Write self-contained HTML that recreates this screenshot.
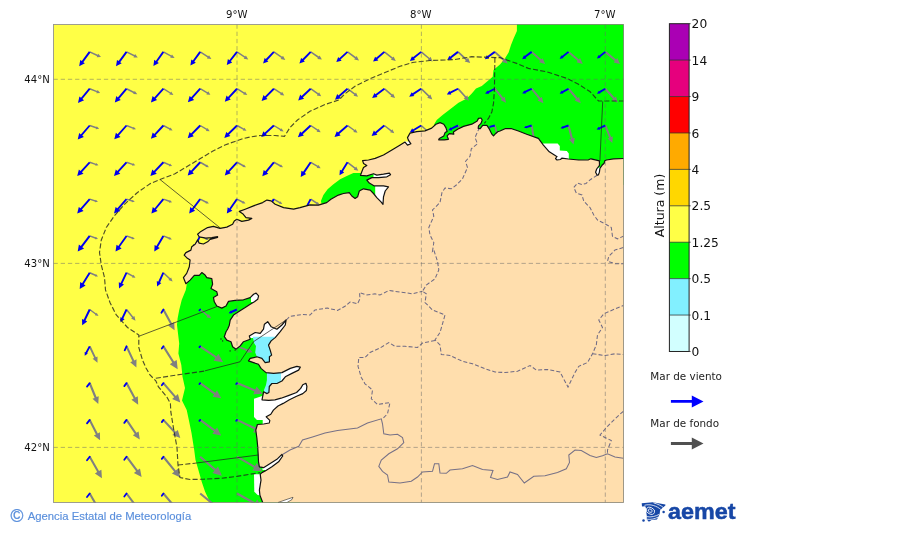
<!DOCTYPE html><html><head><meta charset="utf-8"><title>Mar de viento y mar de fondo</title>
<style>html,body{margin:0;padding:0;background:#fff}svg{display:block}text{font-family:"DejaVu Sans","Liberation Sans",sans-serif;fill:#111}.lib{font-family:"Liberation Sans","DejaVu Sans",sans-serif}</style></head><body>
<svg width="900" height="533" viewBox="0 0 900 533">
<rect width="900" height="533" fill="#fff"/>
<defs><clipPath id="c"><rect x="53.5" y="24.5" width="570.0" height="478.0"/></clipPath></defs>
<g clip-path="url(#c)">
<rect x="53.5" y="24.5" width="570.0" height="478.0" fill="#ffff46"/>
<polygon points="516.9,24.0 516.9,30.9 513.6,38.4 511.0,45.0 508.6,52.6 504.4,59.2 500.2,64.3 493.5,70.1 492.7,76.8 486.8,81.8 481.8,86.0 476.0,88.5 471.8,93.5 466.8,98.5 458.5,102.7 450.1,109.2 442.6,115.0 436.7,120.0 434.2,124.2 434.0,136.0 450.0,145.0 624.0,185.0 624.0,24.0" fill="#00ff00"/>
<polygon points="362.0,172.0 360.5,173.1 353.4,173.1 346.8,175.9 340.1,179.3 333.4,184.3 327.6,189.3 323.4,195.1 320.9,201.0 321.7,204.3 325.0,212.0 395.0,212.0 395.0,172.0" fill="#00ff00"/>
<polygon points="195.0,272.0 190.0,279.0 186.8,283.9 185.8,290.1 181.7,300.1 179.2,310.1 177.6,318.5 177.0,325.0 179.2,343.4 178.4,353.4 181.3,365.0 182.5,376.8 185.0,388.0 182.0,400.5 186.7,410.0 189.2,421.7 191.5,433.0 194.2,450.1 195.5,460.0 198.4,470.1 201.7,481.7 205.1,491.8 210.1,502.5 300.0,502.5 300.0,272.0" fill="#00ff00"/>
<polygon points="542.6,143.4 557.6,143.4 559.8,146.0 559.8,150.4 566.8,151.0 568.8,153.5 568.8,162.0 552.0,162.0 541.0,146.0" fill="#fff"/>
<polygon points="594.0,167.4 602.0,167.4 602.0,176.0 594.0,176.0" fill="#fff"/>
<polygon points="373.5,172.0 392.0,172.0 392.0,178.5 373.5,178.5" fill="#fff"/>
<polygon points="375.2,184.0 390.0,184.0 390.0,206.0 375.2,206.0" fill="#fff"/>
<polygon points="404.0,141.5 412.0,141.5 412.0,146.5 404.0,146.5" fill="#fff"/>
<polygon points="251.0,291.0 260.0,291.0 260.0,302.0 251.0,302.0" fill="#fff"/>
<polygon points="249.0,318.0 290.0,318.0 290.0,338.0 249.0,338.0" fill="#fff"/>
<polygon points="279.5,365.0 302.0,365.0 302.0,385.0 279.5,385.0" fill="#fff"/>
<polygon points="254.0,398.7 310.0,380.0 310.0,424.0 262.7,424.0 262.7,420.0 257.0,420.0 254.0,417.0" fill="#fff"/>
<polygon points="254.0,474.2 263.0,474.2 263.0,496.0 257.7,495.1 254.3,491.8" fill="#fff"/>
<polygon points="262.5,452.0 284.0,452.0 284.0,470.0 262.5,470.0" fill="#fff"/>
<polygon points="252.7,336.7 290.0,336.7 290.0,365.0 262.0,365.0 256.9,356.8 255.2,352.6 256.0,345.9 254.3,343.4" fill="#82f0ff"/>
<polygon points="266.9,372.0 281.0,372.0 281.0,386.0 270.5,386.0 270.5,392.0 264.5,395.0 264.0,390.0 266.0,385.0 266.9,380.0" fill="#82f0ff"/>
<polygon points="89.4,52.6 97.1,56.2 96.7,57.2 101.0,57.1 98.2,53.8 97.8,54.8 90.0,51.2" fill="#808080"/>
<polygon points="126.2,52.6 134.0,56.4 133.5,57.4 137.8,57.4 135.1,54.0 134.6,55.0 126.9,51.2" fill="#808080"/>
<polygon points="163.0,52.6 170.8,56.7 170.2,57.7 174.6,57.9 172.0,54.4 171.5,55.4 163.7,51.2" fill="#808080"/>
<polygon points="199.8,52.5 207.5,57.5 206.9,58.6 211.4,59.1 209.0,55.2 208.4,56.3 200.6,51.3" fill="#808080"/>
<polygon points="236.6,52.5 244.4,57.7 243.7,58.8 248.3,59.4 245.9,55.4 245.2,56.5 237.4,51.3" fill="#808080"/>
<polygon points="273.4,52.5 281.4,58.0 280.6,59.1 285.3,59.9 283.0,55.7 282.2,56.8 274.3,51.3" fill="#808080"/>
<polygon points="310.3,52.5 318.0,57.9 317.3,58.9 321.9,59.6 319.6,55.6 318.9,56.6 311.1,51.3" fill="#808080"/>
<polygon points="347.1,52.5 355.0,58.4 354.2,59.5 359.0,60.4 356.7,56.0 355.9,57.1 348.0,51.3" fill="#808080"/>
<polygon points="383.9,52.5 391.8,58.7 390.9,59.8 395.8,60.9 393.6,56.4 392.8,57.5 384.8,51.3" fill="#808080"/>
<polygon points="420.7,52.5 428.6,59.1 427.7,60.2 432.7,61.5 430.5,56.8 429.6,57.9 421.7,51.3" fill="#808080"/>
<polygon points="457.4,52.5 465.8,60.3 464.7,61.5 470.2,63.1 468.1,57.8 467.0,59.0 458.6,51.3" fill="#808080"/>
<polygon points="494.2,52.6 503.1,60.7 502.0,61.9 507.7,63.6 505.5,58.0 504.3,59.3 495.4,51.2" fill="#808080"/>
<polygon points="531.0,52.6 540.3,60.9 539.1,62.2 545.1,63.9 542.7,58.2 541.5,59.5 532.3,51.2" fill="#808080"/>
<polygon points="567.9,52.6 577.7,60.9 576.5,62.3 582.7,63.9 580.1,58.0 578.9,59.4 569.1,51.2" fill="#808080"/>
<polygon points="604.7,52.7 614.8,61.0 613.7,62.4 620.0,63.9 617.3,58.0 616.1,59.4 606.0,51.1" fill="#808080"/>
<polygon points="89.4,89.4 96.7,92.3 96.3,93.2 100.2,92.9 97.6,90.1 97.2,90.9 90.0,88.0" fill="#808080"/>
<polygon points="126.2,89.4 133.6,93.2 133.1,94.1 137.3,94.2 134.8,90.9 134.3,91.8 126.9,88.0" fill="#808080"/>
<polygon points="163.0,89.3 169.9,93.6 169.3,94.5 173.4,94.9 171.2,91.5 170.7,92.4 163.8,88.1" fill="#808080"/>
<polygon points="199.8,89.3 206.9,93.5 206.4,94.4 210.4,94.7 208.2,91.3 207.6,92.2 200.6,88.1" fill="#808080"/>
<polygon points="236.6,89.3 243.7,93.7 243.2,94.5 247.3,94.9 245.0,91.5 244.5,92.4 237.4,88.1" fill="#808080"/>
<polygon points="273.4,89.3 280.7,94.0 280.1,94.9 284.3,95.4 282.1,91.8 281.5,92.7 274.3,88.1" fill="#808080"/>
<polygon points="310.2,89.3 317.5,94.5 316.8,95.4 321.2,96.2 319.1,92.3 318.4,93.3 311.1,88.1" fill="#808080"/>
<polygon points="347.1,89.3 354.3,94.8 353.6,95.8 358.0,96.7 356.0,92.6 355.2,93.6 348.0,88.1" fill="#808080"/>
<polygon points="383.8,89.3 391.3,95.7 390.4,96.7 395.1,97.9 393.1,93.5 392.3,94.5 384.8,88.1" fill="#808080"/>
<polygon points="420.6,89.3 428.3,96.7 427.2,97.7 432.3,99.4 430.4,94.4 429.4,95.5 421.7,88.1" fill="#808080"/>
<polygon points="457.4,89.3 464.9,97.6 463.7,98.6 468.9,100.7 467.3,95.3 466.2,96.4 458.6,88.1" fill="#808080"/>
<polygon points="494.1,89.3 501.8,99.0 500.5,100.0 506.0,102.7 504.7,96.7 503.3,97.8 495.6,88.1" fill="#808080"/>
<polygon points="530.9,89.3 539.0,99.3 537.6,100.5 543.4,103.2 541.9,96.9 540.5,98.1 532.4,88.1" fill="#808080"/>
<polygon points="567.7,89.3 576.1,99.3 574.7,100.5 580.7,103.2 579.1,96.9 577.7,98.1 569.3,88.1" fill="#808080"/>
<polygon points="604.6,89.4 613.2,99.0 611.8,100.2 617.8,102.7 616.0,96.5 614.7,97.7 606.1,88.0" fill="#808080"/>
<polygon points="89.5,126.2 96.0,128.5 95.8,129.2 99.2,128.8 96.7,126.3 96.5,127.0 89.9,124.8" fill="#808080"/>
<polygon points="126.3,126.2 132.8,128.8 132.5,129.5 136.0,129.2 133.6,126.7 133.4,127.4 126.8,124.8" fill="#808080"/>
<polygon points="163.0,126.2 169.4,129.6 169.0,130.3 172.6,130.5 170.5,127.6 170.1,128.3 163.7,124.8" fill="#808080"/>
<polygon points="199.8,126.1 206.4,130.1 205.9,130.9 209.7,131.2 207.6,128.0 207.1,128.8 200.6,124.9" fill="#808080"/>
<polygon points="236.7,126.2 243.2,129.8 242.8,130.5 246.5,130.8 244.4,127.7 243.9,128.5 237.4,124.8" fill="#808080"/>
<polygon points="273.5,126.1 280.2,130.3 279.7,131.1 283.6,131.5 281.5,128.2 281.0,129.0 274.2,124.9" fill="#808080"/>
<polygon points="310.3,126.1 317.2,130.8 316.6,131.7 320.7,132.2 318.6,128.7 318.0,129.5 311.1,124.9" fill="#808080"/>
<polygon points="347.1,126.1 354.0,131.1 353.3,132.0 357.5,132.8 355.5,129.0 354.9,129.9 348.0,124.9" fill="#808080"/>
<polygon points="383.9,126.1 390.8,131.4 390.1,132.3 394.3,133.2 392.4,129.3 391.7,130.3 384.8,124.9" fill="#808080"/>
<polygon points="420.7,126.1 427.6,132.3 426.7,133.2 431.2,134.5 429.4,130.2 428.6,131.2 421.7,124.9" fill="#808080"/>
<polygon points="457.4,126.0 463.6,134.3 462.4,135.1 467.0,137.5 466.0,132.4 464.8,133.3 458.6,125.0" fill="#808080"/>
<polygon points="494.0,125.7 496.7,136.8 495.2,137.1 498.8,141.5 500.0,135.9 498.4,136.3 495.7,125.3" fill="#808080"/>
<polygon points="530.7,125.7 532.8,138.1 531.0,138.4 534.7,143.5 536.4,137.5 534.7,137.8 532.6,125.3" fill="#808080"/>
<polygon points="567.5,125.8 570.9,138.9 569.1,139.4 573.5,144.5 574.8,137.9 572.9,138.3 569.5,125.2" fill="#808080"/>
<polygon points="604.4,125.9 609.2,137.9 607.5,138.6 612.3,142.9 612.8,136.5 611.1,137.1 606.2,125.1" fill="#808080"/>
<polygon points="89.5,163.0 95.5,165.1 95.3,165.7 98.5,165.3 96.2,163.1 96.0,163.7 89.9,161.6" fill="#808080"/>
<polygon points="126.3,163.0 132.3,165.1 132.1,165.7 135.3,165.3 133.0,163.1 132.8,163.7 126.8,161.6" fill="#808080"/>
<polygon points="163.1,163.0 169.1,165.6 168.8,166.2 172.1,166.0 170.0,163.6 169.7,164.2 163.7,161.6" fill="#808080"/>
<polygon points="199.8,163.0 205.9,166.4 205.5,167.1 208.9,167.3 207.0,164.4 206.6,165.1 200.6,161.6" fill="#808080"/>
<polygon points="236.7,163.0 242.9,166.4 242.5,167.1 246.0,167.3 244.0,164.4 243.6,165.1 237.4,161.6" fill="#808080"/>
<polygon points="273.5,163.0 279.9,166.4 279.5,167.1 283.1,167.3 281.0,164.4 280.6,165.1 274.2,161.6" fill="#808080"/>
<polygon points="310.3,162.9 317.2,167.1 316.7,167.9 320.7,168.3 318.5,164.9 318.0,165.8 311.1,161.7" fill="#808080"/>
<polygon points="347.0,162.9 354.5,168.8 353.7,169.8 358.3,170.8 356.2,166.6 355.4,167.6 348.0,161.7" fill="#808080"/>
<polygon points="89.5,199.8 95.2,201.7 95.0,202.3 98.0,201.8 95.8,199.7 95.6,200.3 89.9,198.4" fill="#808080"/>
<polygon points="126.3,199.8 132.0,201.7 131.8,202.3 134.8,201.8 132.6,199.7 132.5,200.3 126.8,198.4" fill="#808080"/>
<polygon points="163.1,199.8 169.1,202.0 168.9,202.7 172.1,202.3 169.9,200.0 169.7,200.6 163.6,198.4" fill="#808080"/>
<polygon points="199.8,199.8 205.9,202.9 205.6,203.5 208.9,203.6 206.9,200.9 206.6,201.5 200.5,198.4" fill="#808080"/>
<polygon points="236.7,199.8 242.5,202.9 242.2,203.5 245.5,203.6 243.6,200.9 243.2,201.5 237.4,198.4" fill="#808080"/>
<polygon points="273.5,199.7 279.3,203.2 279.0,203.8 282.3,204.1 280.5,201.3 280.1,201.9 274.2,198.5" fill="#808080"/>
<polygon points="310.3,199.7 316.5,203.9 316.0,204.6 319.7,205.1 317.8,201.9 317.3,202.6 311.1,198.5" fill="#808080"/>
<polygon points="89.4,236.6 95.1,238.7 94.9,239.2 98.0,238.9 95.9,236.7 95.6,237.3 90.0,235.2" fill="#808080"/>
<polygon points="126.3,236.6 132.0,238.7 131.8,239.2 134.8,238.9 132.7,236.7 132.5,237.3 126.8,235.2" fill="#808080"/>
<polygon points="163.1,236.6 168.9,239.0 168.7,239.6 171.9,239.4 169.8,237.0 169.5,237.6 163.6,235.2" fill="#808080"/>
<polygon points="199.9,236.6 205.7,239.3 205.5,239.9 208.7,239.9 206.7,237.4 206.4,238.0 200.5,235.2" fill="#808080"/>
<polygon points="89.4,273.4 95.1,276.0 94.8,276.5 98.0,276.4 96.0,274.0 95.7,274.6 90.0,272.0" fill="#808080"/>
<polygon points="126.2,273.4 132.4,276.8 132.0,277.5 135.5,277.7 133.5,274.8 133.1,275.5 126.9,272.0" fill="#808080"/>
<polygon points="162.8,273.2 169.2,279.3 168.4,280.1 172.6,281.4 171.1,277.4 170.3,278.2 163.9,272.2" fill="#808080"/>
<polygon points="89.3,310.1 95.3,314.6 94.8,315.3 98.5,316.0 96.7,312.7 96.2,313.4 90.1,308.9" fill="#808080"/>
<polygon points="125.9,310.0 132.1,317.7 131.1,318.6 135.5,320.7 134.4,315.9 133.3,316.8 127.1,309.0" fill="#808080"/>
<polygon points="162.4,310.0 170.2,324.3 168.0,325.5 174.6,330.2 174.2,322.1 172.0,323.3 164.3,309.0" fill="#808080"/>
<polygon points="199.7,310.1 207.2,316.2 206.3,317.2 211.0,318.3 209.0,314.0 208.1,315.0 200.7,308.9" fill="#808080"/>
<polygon points="88.8,346.7 94.2,358.0 92.6,358.8 97.5,362.7 97.5,356.4 95.9,357.2 90.6,345.9" fill="#808080"/>
<polygon points="125.6,346.7 132.4,361.3 130.2,362.3 136.4,367.4 136.5,359.3 134.3,360.4 127.5,345.9" fill="#808080"/>
<polygon points="162.5,346.9 172.3,362.6 169.8,364.2 177.7,369.2 176.7,359.9 174.1,361.5 164.3,345.7" fill="#808080"/>
<polygon points="199.6,347.2 215.4,358.1 213.6,360.7 223.1,362.2 218.4,353.8 216.6,356.4 200.8,345.4" fill="#808080"/>
<polygon points="236.7,347.1 247.5,351.3 246.9,352.8 252.6,352.3 248.7,348.1 248.1,349.6 237.3,345.5" fill="#808080"/>
<polygon points="88.7,383.5 94.6,397.9 92.5,398.7 98.3,403.9 98.7,396.2 96.6,397.1 90.7,382.7" fill="#808080"/>
<polygon points="125.6,383.6 133.7,398.5 131.4,399.7 138.2,404.7 137.8,396.2 135.5,397.5 127.5,382.6" fill="#808080"/>
<polygon points="162.6,383.8 174.2,397.2 172.1,399.1 180.3,402.6 177.9,394.0 175.8,395.9 164.2,382.4" fill="#808080"/>
<polygon points="199.6,384.0 214.1,394.4 212.5,396.7 221.2,398.2 217.0,390.3 215.3,392.7 200.8,382.2" fill="#808080"/>
<polygon points="236.6,384.1 254.5,391.4 253.3,394.3 262.9,393.7 256.5,386.5 255.3,389.4 237.4,382.1" fill="#808080"/>
<polygon points="88.8,420.4 95.9,434.4 93.8,435.5 100.1,440.2 99.9,432.3 97.8,433.4 90.6,419.4" fill="#808080"/>
<polygon points="125.7,420.5 134.8,433.9 132.8,435.3 139.8,439.4 138.6,431.4 136.5,432.8 127.4,419.3" fill="#808080"/>
<polygon points="162.6,420.6 174.3,433.2 172.3,435.0 180.3,438.1 177.8,429.9 175.8,431.7 164.1,419.2" fill="#808080"/>
<polygon points="199.6,420.7 214.1,431.5 212.4,433.8 221.2,435.5 217.1,427.5 215.3,429.8 200.8,419.1" fill="#808080"/>
<polygon points="236.6,420.8 254.5,429.5 253.1,432.4 263.0,432.4 256.8,424.6 255.4,427.6 237.5,419.0" fill="#808080"/>
<polygon points="88.8,457.2 97.2,472.1 94.9,473.4 101.9,478.3 101.4,469.8 99.0,471.1 90.6,456.2" fill="#808080"/>
<polygon points="125.7,457.3 136.1,471.3 133.9,473.0 141.6,477.0 140.0,468.4 137.8,470.1 127.4,456.1" fill="#808080"/>
<polygon points="162.5,457.4 174.2,471.7 171.9,473.6 180.3,477.5 178.1,468.5 175.8,470.4 164.2,456.0" fill="#808080"/>
<polygon points="199.5,457.5 214.5,470.7 212.3,473.1 221.9,475.8 218.0,466.6 215.9,469.1 200.9,455.9" fill="#808080"/>
<polygon points="236.5,457.6 254.0,467.7 252.3,470.6 262.3,471.3 256.7,463.0 255.0,465.9 237.5,455.8" fill="#808080"/>
<polygon points="88.8,494.0 97.4,509.1 95.0,510.4 102.2,515.3 101.6,506.7 99.2,508.0 90.6,493.0" fill="#808080"/>
<polygon points="125.7,494.1 136.5,508.5 134.2,510.2 142.1,514.3 140.4,505.5 138.1,507.2 127.4,492.9" fill="#808080"/>
<polygon points="162.6,494.2 174.8,508.5 172.4,510.5 181.0,514.3 178.7,505.2 176.4,507.2 164.2,492.8" fill="#808080"/>
<polygon points="199.5,494.3 215.3,507.2 213.2,509.8 223.1,512.2 218.8,503.0 216.6,505.6 200.9,492.7" fill="#808080"/>
<polygon points="236.5,494.4 254.4,504.5 252.8,507.4 263.0,508.1 257.1,499.6 255.5,502.6 237.5,492.6" fill="#808080"/>
<polygon points="88.9,51.3 81.8,61.0 80.2,59.9 79.2,66.2 84.9,63.3 83.3,62.2 90.5,52.5" fill="#0000ee"/>
<polygon points="125.8,51.3 118.6,61.0 117.0,59.9 116.0,66.2 121.7,63.3 120.2,62.2 127.3,52.5" fill="#0000ee"/>
<polygon points="162.6,51.3 155.8,60.9 154.2,59.8 153.4,65.9 158.9,63.1 157.3,62.0 164.1,52.5" fill="#0000ee"/>
<polygon points="199.4,51.3 192.8,60.5 191.3,59.5 190.4,65.4 195.8,62.7 194.3,61.6 201.0,52.5" fill="#0000ee"/>
<polygon points="236.3,51.3 229.3,60.2 227.9,59.0 226.8,64.9 232.2,62.4 230.8,61.3 237.8,52.5" fill="#0000ee"/>
<polygon points="273.2,51.3 265.8,59.1 264.6,57.9 263.1,63.4 268.4,61.5 267.2,60.4 274.5,52.5" fill="#0000ee"/>
<polygon points="310.0,51.2 302.4,59.1 301.1,57.9 299.4,63.4 304.9,61.6 303.7,60.4 311.4,52.6" fill="#0000ee"/>
<polygon points="346.9,51.2 339.2,58.2 338.2,57.0 336.3,62.1 341.6,60.7 340.5,59.6 348.1,52.6" fill="#0000ee"/>
<polygon points="383.7,51.2 376.1,57.8 375.1,56.7 373.1,61.6 378.3,60.4 377.3,59.2 385.0,52.6" fill="#0000ee"/>
<polygon points="420.6,51.2 412.9,57.3 412.0,56.2 409.9,60.9 415.0,59.9 414.1,58.8 421.8,52.6" fill="#0000ee"/>
<polygon points="457.4,51.1 450.1,56.7 449.4,55.7 447.3,60.1 452.1,59.2 451.3,58.2 458.6,52.7" fill="#0000ee"/>
<polygon points="494.3,51.1 487.5,56.1 486.8,55.2 484.8,59.2 489.2,58.5 488.6,57.6 495.4,52.7" fill="#0000ee"/>
<polygon points="531.1,51.1 524.6,56.1 524.0,55.3 522.2,59.2 526.4,58.4 525.8,57.6 532.2,52.7" fill="#0000ee"/>
<polygon points="567.9,51.2 561.9,55.9 561.3,55.2 559.6,58.9 563.6,58.1 563.0,57.4 569.1,52.6" fill="#0000ee"/>
<polygon points="604.7,51.2 599.0,55.7 598.5,55.1 596.9,58.6 600.7,57.8 600.2,57.2 605.9,52.6" fill="#0000ee"/>
<polygon points="89.0,88.1 81.0,97.8 79.4,96.5 78.0,102.9 84.1,100.3 82.4,99.0 90.4,89.3" fill="#0000ee"/>
<polygon points="125.8,88.1 117.8,97.4 116.3,96.1 114.8,102.4 120.8,100.0 119.3,98.7 127.3,89.3" fill="#0000ee"/>
<polygon points="162.7,88.1 154.2,97.4 152.6,96.0 150.9,102.4 157.1,100.1 155.6,98.7 164.1,89.3" fill="#0000ee"/>
<polygon points="199.5,88.1 191.2,97.2 189.6,95.9 187.9,102.2 194.1,99.9 192.6,98.5 200.9,89.3" fill="#0000ee"/>
<polygon points="236.3,88.0 228.0,96.9 226.5,95.5 224.8,101.7 230.8,99.6 229.4,98.2 237.7,89.4" fill="#0000ee"/>
<polygon points="273.2,88.0 264.8,96.4 263.5,95.0 261.6,100.9 267.5,99.1 266.2,97.7 274.5,89.4" fill="#0000ee"/>
<polygon points="310.0,88.0 301.5,96.0 300.2,94.6 298.2,100.4 304.1,98.8 302.8,97.4 311.3,89.4" fill="#0000ee"/>
<polygon points="346.9,88.0 338.4,95.5 337.2,94.1 335.0,99.7 340.8,98.2 339.6,96.9 348.1,89.4" fill="#0000ee"/>
<polygon points="383.8,87.9 375.4,94.2 374.5,93.0 372.1,97.9 377.5,97.0 376.6,95.7 384.9,89.5" fill="#0000ee"/>
<polygon points="420.6,87.9 412.5,93.3 411.7,92.2 409.2,96.7 414.3,96.1 413.5,94.9 421.7,89.5" fill="#0000ee"/>
<polygon points="457.6,87.9 449.9,91.8 449.4,90.8 446.8,94.5 451.3,94.5 450.8,93.5 458.4,89.5" fill="#0000ee"/>
<polygon points="494.4,87.9 487.8,91.3 487.4,90.5 485.1,93.7 489.1,93.7 488.7,92.9 495.3,89.5" fill="#0000ee"/>
<polygon points="531.2,87.9 524.8,91.1 524.4,90.4 522.2,93.5 526.0,93.5 525.6,92.8 532.1,89.5" fill="#0000ee"/>
<polygon points="568.0,87.9 562.0,91.3 561.6,90.6 559.6,93.7 563.3,93.6 562.9,92.9 569.0,89.5" fill="#0000ee"/>
<polygon points="604.8,87.9 599.1,91.3 598.8,90.7 596.9,93.7 600.4,93.5 600.1,92.9 605.8,89.5" fill="#0000ee"/>
<polygon points="89.0,124.9 80.8,134.4 79.2,133.0 77.7,139.5 83.9,137.0 82.3,135.6 90.4,126.1" fill="#0000ee"/>
<polygon points="125.8,124.9 117.5,134.2 115.9,132.8 114.3,139.2 120.5,136.9 118.9,135.5 127.2,126.1" fill="#0000ee"/>
<polygon points="162.7,124.8 154.2,133.9 152.7,132.4 150.9,138.8 157.0,136.6 155.6,135.2 164.1,126.2" fill="#0000ee"/>
<polygon points="199.5,124.8 191.0,133.5 189.6,132.1 187.7,138.2 193.8,136.2 192.4,134.8 200.9,126.2" fill="#0000ee"/>
<polygon points="236.4,124.8 227.7,133.3 226.3,131.9 224.3,138.0 230.4,136.1 229.0,134.7 237.7,126.2" fill="#0000ee"/>
<polygon points="273.2,124.8 264.6,132.7 263.4,131.3 261.2,137.1 267.2,135.5 265.9,134.1 274.5,126.2" fill="#0000ee"/>
<polygon points="310.0,124.8 301.4,132.8 300.1,131.4 297.9,137.2 303.9,135.6 302.7,134.2 311.3,126.2" fill="#0000ee"/>
<polygon points="346.9,124.8 338.0,132.6 336.8,131.2 334.5,137.0 340.6,135.5 339.3,134.0 348.1,126.2" fill="#0000ee"/>
<polygon points="383.7,124.8 375.1,131.9 373.9,130.5 371.6,136.0 377.4,134.7 376.3,133.4 384.9,126.2" fill="#0000ee"/>
<polygon points="420.7,124.7 412.9,129.4 412.2,128.3 409.7,132.4 414.5,132.1 413.8,131.0 421.7,126.3" fill="#0000ee"/>
<polygon points="457.6,124.6 451.0,127.9 450.6,127.2 448.3,130.3 452.2,130.4 451.8,129.6 458.4,126.4" fill="#0000ee"/>
<polygon points="494.6,124.6 490.3,125.8 490.2,125.7 488.5,127.3 490.8,127.8 490.8,127.6 495.1,126.4" fill="#0000ee"/>
<polygon points="531.4,124.6 526.2,126.2 526.0,125.8 524.0,127.8 526.8,128.3 526.7,128.0 531.9,126.4" fill="#0000ee"/>
<polygon points="568.2,124.6 562.7,126.5 562.6,126.1 560.5,128.3 563.5,128.7 563.4,128.3 568.8,126.4" fill="#0000ee"/>
<polygon points="604.9,124.6 599.0,127.4 598.7,126.8 596.6,129.5 600.1,129.7 599.8,129.1 605.7,126.4" fill="#0000ee"/>
<polygon points="89.0,161.7 80.5,171.0 78.9,169.6 77.2,176.0 83.5,173.7 81.9,172.3 90.4,162.9" fill="#0000ee"/>
<polygon points="125.8,161.7 117.3,171.0 115.8,169.6 114.0,176.0 120.3,173.7 118.7,172.3 127.2,162.9" fill="#0000ee"/>
<polygon points="162.7,161.6 153.8,171.0 152.3,169.5 150.4,176.0 156.8,173.8 155.2,172.3 164.1,163.0" fill="#0000ee"/>
<polygon points="199.5,161.6 191.0,170.7 189.5,169.2 187.7,175.5 193.9,173.4 192.4,172.0 200.9,163.0" fill="#0000ee"/>
<polygon points="236.3,161.7 228.0,170.7 226.5,169.3 224.8,175.5 230.9,173.3 229.4,172.0 237.7,162.9" fill="#0000ee"/>
<polygon points="273.1,161.7 265.3,171.2 263.7,169.9 262.3,176.3 268.3,173.7 266.8,172.4 274.6,162.9" fill="#0000ee"/>
<polygon points="309.9,161.8 303.1,171.8 301.4,170.7 300.7,177.0 306.3,174.0 304.7,172.9 311.5,162.8" fill="#0000ee"/>
<polygon points="346.7,161.8 341.3,170.6 339.9,169.8 339.5,175.3 344.2,172.5 342.9,171.6 348.3,162.8" fill="#0000ee"/>
<polygon points="89.0,198.5 80.5,208.3 78.8,206.9 77.2,213.6 83.6,211.0 81.9,209.6 90.4,199.7" fill="#0000ee"/>
<polygon points="125.8,198.5 117.3,208.3 115.6,206.9 114.0,213.6 120.4,211.0 118.7,209.6 127.2,199.7" fill="#0000ee"/>
<polygon points="162.6,198.5 154.5,208.4 152.8,207.0 151.4,213.6 157.6,210.9 155.9,209.6 164.1,199.7" fill="#0000ee"/>
<polygon points="199.4,198.5 192.0,208.4 190.3,207.1 189.2,213.6 195.1,210.8 193.5,209.5 200.9,199.7" fill="#0000ee"/>
<polygon points="236.2,198.6 229.3,208.4 227.7,207.3 226.8,213.6 232.4,210.7 230.8,209.5 237.8,199.6" fill="#0000ee"/>
<polygon points="273.0,198.6 266.9,208.8 265.3,207.8 264.8,214.1 270.2,210.8 268.5,209.8 274.7,199.6" fill="#0000ee"/>
<polygon points="309.8,198.7 304.4,208.9 302.8,208.0 302.7,214.1 307.7,210.6 306.1,209.7 311.5,199.5" fill="#0000ee"/>
<polygon points="88.9,235.3 80.8,246.0 78.9,244.6 77.7,251.6 84.1,248.6 82.3,247.2 90.5,236.5" fill="#0000ee"/>
<polygon points="125.8,235.4 118.3,246.0 116.5,244.8 115.5,251.6 121.6,248.4 119.8,247.1 127.3,236.4" fill="#0000ee"/>
<polygon points="162.5,235.4 156.4,246.1 154.6,245.1 154.3,251.6 159.8,248.1 158.0,247.1 164.2,236.4" fill="#0000ee"/>
<polygon points="199.3,235.5 194.6,245.0 193.1,244.3 193.2,249.9 197.7,246.6 196.3,245.8 201.0,236.3" fill="#0000ee"/>
<polygon points="88.9,272.2 82.1,283.3 80.2,282.1 79.7,288.9 85.6,285.4 83.7,284.2 90.5,273.2" fill="#0000ee"/>
<polygon points="125.7,272.3 120.6,283.0 118.8,282.2 119.0,288.4 124.0,284.6 122.3,283.8 127.4,273.1" fill="#0000ee"/>
<polygon points="162.5,272.3 158.2,281.7 156.8,281.0 157.1,286.4 161.4,283.1 160.0,282.4 164.2,273.1" fill="#0000ee"/>
<polygon points="88.8,309.1 83.7,319.8 82.0,319.0 82.2,325.2 87.2,321.4 85.5,320.6 90.6,309.9" fill="#0000ee"/>
<polygon points="125.7,309.1 121.6,317.8 120.3,317.2 120.5,322.2 124.6,319.2 123.3,318.6 127.4,309.9" fill="#0000ee"/>
<path d="M163.4 309.5 l-2.0 3.2" stroke="#0000ee" stroke-width="1.8" stroke-linecap="round" fill="none"/>
<path d="M200.2 309.5 l-0.8 0.9" stroke="#0000ee" stroke-width="1.8" stroke-linecap="round" fill="none"/>
<polygon points="236.6,308.6 230.9,311.1 230.7,310.6 228.6,313.2 231.9,313.4 231.7,312.9 237.4,310.4" fill="#0000ee"/>
<polygon points="88.9,345.9 85.5,352.3 84.7,351.9 84.7,355.8 87.9,353.6 87.1,353.2 90.5,346.7" fill="#0000ee"/>
<path d="M126.5 346.3 l-1.8 4.0" stroke="#0000ee" stroke-width="1.8" stroke-linecap="round" fill="none"/>
<path d="M163.4 346.3 l-1.6 2.2" stroke="#0000ee" stroke-width="1.8" stroke-linecap="round" fill="none"/>
<path d="M200.2 346.3 l-0.8 0.9" stroke="#0000ee" stroke-width="1.8" stroke-linecap="round" fill="none"/>
<path d="M237.0 346.3 l-0.8 0.9" stroke="#0000ee" stroke-width="1.8" stroke-linecap="round" fill="none"/>
<path d="M89.7 383.1 l-2.7 3.5" stroke="#0000ee" stroke-width="1.8" stroke-linecap="round" fill="none"/>
<path d="M126.5 383.1 l-2.2 3.0" stroke="#0000ee" stroke-width="1.8" stroke-linecap="round" fill="none"/>
<path d="M163.4 383.1 l-1.6 2.2" stroke="#0000ee" stroke-width="1.8" stroke-linecap="round" fill="none"/>
<path d="M200.2 383.1 l-0.8 0.9" stroke="#0000ee" stroke-width="1.8" stroke-linecap="round" fill="none"/>
<path d="M237.0 383.1 l-0.8 0.9" stroke="#0000ee" stroke-width="1.8" stroke-linecap="round" fill="none"/>
<path d="M89.7 419.9 l-2.7 3.5" stroke="#0000ee" stroke-width="1.8" stroke-linecap="round" fill="none"/>
<path d="M126.5 419.9 l-2.2 3.0" stroke="#0000ee" stroke-width="1.8" stroke-linecap="round" fill="none"/>
<path d="M163.4 419.9 l-1.6 2.2" stroke="#0000ee" stroke-width="1.8" stroke-linecap="round" fill="none"/>
<path d="M200.2 419.9 l-0.8 0.9" stroke="#0000ee" stroke-width="1.8" stroke-linecap="round" fill="none"/>
<path d="M237.0 419.9 l-0.8 0.9" stroke="#0000ee" stroke-width="1.8" stroke-linecap="round" fill="none"/>
<path d="M89.7 456.7 l-2.7 3.5" stroke="#0000ee" stroke-width="1.8" stroke-linecap="round" fill="none"/>
<path d="M126.5 456.7 l-2.2 3.0" stroke="#0000ee" stroke-width="1.8" stroke-linecap="round" fill="none"/>
<path d="M163.4 456.7 l-1.6 2.2" stroke="#0000ee" stroke-width="1.8" stroke-linecap="round" fill="none"/>
<path d="M89.7 493.5 l-2.7 3.5" stroke="#0000ee" stroke-width="1.8" stroke-linecap="round" fill="none"/>
<path d="M126.5 493.5 l-2.2 3.0" stroke="#0000ee" stroke-width="1.8" stroke-linecap="round" fill="none"/>
<path d="M163.4 493.5 l-1.6 2.2" stroke="#0000ee" stroke-width="1.8" stroke-linecap="round" fill="none"/>
<path d="M624.0 158.5 L613.6 158.8 L606.5 160.0 L604.7 160.8 L604.2 163.2 L602.0 165.3 L599.9 168.5 L599.4 172.2 L598.3 174.9 L597.2 175.2 L595.6 172.2 L596.7 169.0 L599.5 165.3 L599.4 160.8 L595.2 159.8 L591.0 158.8 L588.5 159.8 L578.5 160.0 L568.5 159.0 L561.8 158.1 L560.5 159.5 L557.0 160.0 L555.5 158.5 L557.0 156.5 L556.0 156.0 L549.3 151.8 L543.4 145.1 L538.4 138.4 L526.7 134.3 L518.4 131.0 L511.7 128.7 L505.0 128.7 L500.0 131.0 L497.7 131.7 L495.5 133.7 L493.5 135.9 L491.9 134.2 L489.4 129.2 L486.9 125.4 L482.7 125.4 L480.2 128.7 L478.2 128.4 L478.5 125.9 L481.0 123.4 L482.2 120.0 L481.0 118.0 L478.5 118.4 L477.2 120.9 L471.8 124.2 L463.5 126.4 L457.6 129.2 L453.4 132.1 L453.8 134.2 L449.3 133.7 L447.1 135.9 L448.4 139.3 L444.3 139.8 L438.7 139.8 L439.3 138.4 L443.8 135.9 L445.1 132.6 L447.1 131.4 L445.9 127.6 L443.8 124.2 L440.1 122.6 L435.9 124.2 L431.7 128.1 L425.0 130.9 L416.7 131.7 L410.0 133.1 L407.5 137.6 L408.4 140.1 L410.9 143.8 L407.5 145.1 L405.0 142.1 L400.2 145.0 L391.9 150.0 L383.5 155.0 L375.2 158.4 L368.5 160.0 L362.6 160.6 L363.5 163.4 L366.8 165.4 L363.5 167.6 L361.8 171.7 L360.5 175.4 L366.8 175.9 L373.5 173.7 L376.8 175.1 L383.5 174.2 L389.4 173.1 L390.5 174.7 L386.9 176.8 L378.5 177.6 L371.8 177.6 L366.8 180.1 L369.3 183.1 L374.3 185.9 L383.5 185.9 L388.5 186.8 L385.2 191.0 L383.5 196.8 L383.0 204.3 L381.0 201.8 L376.8 197.6 L373.5 193.5 L370.2 190.1 L363.5 188.8 L359.3 191.0 L357.6 196.8 L355.1 198.5 L351.8 196.0 L349.3 192.6 L343.4 193.5 L338.4 195.1 L330.9 199.3 L326.7 202.6 L318.4 205.1 L310.0 204.8 L300.0 207.6 L293.6 209.2 L283.6 207.6 L275.2 204.2 L271.1 200.9 L266.9 200.1 L262.7 202.6 L253.5 205.9 L245.2 209.2 L239.3 211.4 L242.7 213.7 L246.0 217.6 L251.8 218.4 L248.5 220.1 L241.8 221.4 L236.8 219.3 L234.3 220.9 L232.6 224.3 L226.8 227.1 L220.1 228.4 L213.4 226.4 L207.6 227.6 L200.9 231.4 L197.6 234.3 L199.2 236.8 L205.9 238.1 L211.8 237.6 L217.6 236.5 L217.6 237.3 L210.1 239.3 L207.6 241.8 L203.4 244.0 L199.2 243.1 L197.6 240.1 L195.1 244.3 L191.7 246.8 L190.9 250.1 L185.9 252.6 L184.2 255.2 L186.7 257.7 L190.1 260.0 L189.3 266.7 L186.7 273.4 L183.4 277.6 L185.9 283.7 L190.1 280.1 L194.3 275.4 L199.3 275.4 L201.8 272.6 L205.1 275.1 L206.8 277.6 L211.8 278.7 L212.6 284.2 L211.0 288.4 L216.8 291.8 L217.6 295.1 L213.5 297.6 L214.3 301.8 L216.8 306.0 L221.8 308.1 L226.0 306.0 L228.5 301.4 L235.2 300.4 L243.5 299.8 L250.2 297.6 L253.6 294.3 L256.1 293.1 L258.6 295.9 L257.7 299.3 L254.4 301.8 L250.2 304.3 L245.2 307.6 L238.5 311.8 L233.5 315.1 L230.2 320.1 L229.3 325.2 L227.7 329.0 L226.0 331.7 L224.3 336.7 L226.8 340.1 L231.0 341.7 L232.6 346.7 L236.0 349.2 L240.2 345.9 L243.5 341.7 L250.2 339.2 L249.3 335.9 L255.2 332.5 L260.2 333.4 L263.5 329.2 L264.4 324.2 L267.7 321.7 L271.1 326.7 L276.9 329.2 L281.9 325.0 L286.1 320.0 L285.3 325.0 L280.2 331.7 L275.2 337.6 L271.1 340.9 L268.5 345.1 L270.2 350.1 L271.6 355.1 L269.4 356.8 L269.4 361.8 L265.2 362.6 L261.9 358.4 L256.9 356.8 L250.2 358.4 L248.5 360.9 L253.5 362.6 L258.5 364.3 L261.0 368.4 L266.0 372.6 L273.6 373.4 L281.9 372.6 L290.3 368.4 L296.9 366.4 L300.3 367.1 L298.6 370.1 L291.9 373.4 L285.3 376.8 L281.9 381.0 L276.9 383.5 L271.9 383.5 L269.3 386.5 L268.9 392.5 L267.0 393.6 L263.6 391.8 L262.0 399.8 L268.7 400.3 L274.9 399.8 L281.1 398.2 L288.3 395.6 L296.6 392.5 L300.7 388.4 L302.8 384.8 L305.9 383.3 L306.9 386.4 L306.4 390.5 L302.8 393.6 L296.6 396.2 L289.4 399.8 L283.2 403.4 L278.0 406.0 L273.4 410.1 L270.8 414.2 L266.2 416.8 L269.8 420.4 L269.3 423.0 L263.6 424.0 L257.4 424.5 L255.8 430.0 L256.9 438.4 L257.7 446.8 L258.2 455.1 L258.5 461.8 L259.4 466.8 L263.5 467.7 L270.2 463.5 L276.9 459.3 L281.9 454.3 L282.7 456.0 L278.6 461.8 L271.9 466.8 L265.2 470.9 L261.9 472.6 L260.2 474.2 L261.0 480.1 L260.2 485.1 L259.4 490.1 L259.9 495.1 L262.7 502.5 L624.0 503.0 L624.0 158.5Z" fill="#ffdead"/>
<polygon points="278.0,502.5 285.0,500.0 293.0,497.3 292.0,499.5 287.0,502.5" fill="#fff" stroke="#222" stroke-width="0.6"/>
<path d="M479.5 127.5 L475.0 137.5 L477.5 143.8 L471.3 148.8 L470.0 156.3 L465.5 161.3 L467.5 167.5 L462.5 178.8 L456.3 185.0 L451.3 188.8 L445.0 188.0 L442.0 192.5 L440.0 202.5 L432.5 210.0 L433.8 216.3 L428.8 227.5 L430.0 235.0 L433.8 242.5 L432.5 251.3 L433.8 250.0 L437.5 261.3 L438.8 270.0 L435.0 278.8 L426.3 285.0 L422.5 291.3 L426.3 293.8 L425.0 302.5 L432.5 310.0 L445.0 315.0 L442.5 323.8 L440.0 332.5 L435.0 340.0 L440.0 345.0 L441.3 354.5 L450.0 355.5 L462.5 361.3 L472.5 363.8 L485.0 368.8 L495.0 372.0 L505.0 372.5 L517.5 371.3 L530.0 365.5 L536.3 370.0 L547.5 369.5 L560.0 372.0 L568.0 387.0 L575.0 372.5 L578.8 366.3 L587.5 362.5 L592.5 353.8 L596.3 345.0 L597.5 335.0 L602.5 327.5 L598.8 320.0 L603.8 313.8 L612.5 310.0 L623.3 305.5" fill="none" stroke="#706b85" stroke-width="1.05" stroke-dasharray="4 2.1"/>
<path d="M597.2 175.2 L590.3 179.7 L586.0 183.5 L581.7 184.5 L577.4 183.2 L573.8 187.5 L576.3 193.0 L582.0 195.0 L583.8 201.3 L590.0 207.5 L593.8 215.0 L597.5 220.0 L605.0 223.8 L611.3 227.5 L612.5 236.3 L617.5 238.8 L623.3 236.3" fill="none" stroke="#706b85" stroke-width="1.05" stroke-dasharray="4 2.1"/>
<path d="M623.3 247.5 L615.0 250.0 L608.8 256.3 L607.5 261.3 L615.0 263.8 L623.3 263.8" fill="none" stroke="#706b85" stroke-width="1.05" stroke-dasharray="4 2.1"/>
<path d="M592.5 353.8 L605.0 355.5 L615.0 353.8 L623.3 354.5" fill="none" stroke="#706b85" stroke-width="1.05" stroke-dasharray="4 2.1"/>
<path d="M286.3 320.0 L290.0 316.3 L302.5 314.5 L310.0 315.0 L315.0 310.0 L327.5 308.0 L337.5 310.5 L345.0 306.3 L350.0 302.0 L357.5 303.8 L360.0 298.8 L359.5 292.5 L366.3 295.0 L375.0 293.8 L380.0 295.0 L388.8 290.5 L400.0 292.0 L412.5 293.8 L422.5 291.3" fill="none" stroke="#706b85" stroke-width="1.05" stroke-dasharray="4 2.1"/>
<path d="M435.0 340.5 L422.5 343.0 L417.5 347.5 L405.0 346.3 L395.0 346.3 L388.8 342.5 L380.0 348.0 L370.0 352.5 L365.0 357.5 L358.8 357.5 L358.0 366.3 L361.3 377.5 L365.0 383.8 L372.5 390.0 L371.3 398.8 L377.5 404.5 L390.0 402.5 L387.5 413.8 L382.5 418.8" fill="none" stroke="#706b85" stroke-width="1.05" stroke-dasharray="4 2.1"/>
<path d="M623.3 411.3 L615.0 418.8 L607.5 426.3 L600.0 435.0 L611.3 440.5 L607.5 450.0 L607.5 453.8" fill="none" stroke="#706b85" stroke-width="1.05" stroke-dasharray="4 2.1"/>
<path d="M282.5 454.5 L290.0 450.0 L298.8 446.3 L302.5 440.0 L312.5 437.0 L325.0 433.0 L337.5 430.5 L357.5 428.0 L367.5 423.0 L381.3 418.8 L382.5 423.8 L383.8 433.8 L390.0 435.0 L397.5 434.3 L402.5 437.5 L403.8 442.5 L397.5 448.8 L388.8 453.8 L381.3 460.0 L378.8 466.3 L382.5 471.3 L387.5 475.0 L388.8 482.0 L400.0 483.0 L411.3 481.3 L417.5 477.0 L422.5 472.0 L432.5 471.3 L434.5 463.8 L438.8 463.8 L440.0 473.0 L446.3 473.3 L450.0 470.0 L462.5 468.8 L472.5 465.5 L482.5 469.5 L493.0 470.5 L490.5 477.5 L497.5 479.5 L507.5 477.0 L510.0 472.0 L517.5 474.5 L524.3 483.0 L533.8 476.3 L545.0 475.8 L557.5 472.5 L566.3 468.8 L569.5 462.5 L568.8 455.0 L575.0 450.0 L581.3 450.5 L590.0 455.5 L596.3 457.5 L602.5 455.8 L607.5 453.8 L615.0 457.0 L623.3 458.3" fill="none" stroke="#777186" stroke-width="1.05"/>
<path d="M624.0 158.5 L613.6 158.8 L606.5 160.0 L604.7 160.8 L604.2 163.2 L602.0 165.3 L599.9 168.5 L599.4 172.2 L598.3 174.9 L597.2 175.2 L595.6 172.2 L596.7 169.0 L599.5 165.3 L599.4 160.8 L595.2 159.8 L591.0 158.8 L588.5 159.8 L578.5 160.0 L568.5 159.0 L561.8 158.1 L560.5 159.5 L557.0 160.0 L555.5 158.5 L557.0 156.5 L556.0 156.0 L549.3 151.8 L543.4 145.1 L538.4 138.4 L526.7 134.3 L518.4 131.0 L511.7 128.7 L505.0 128.7 L500.0 131.0 L497.7 131.7 L495.5 133.7 L493.5 135.9 L491.9 134.2 L489.4 129.2 L486.9 125.4 L482.7 125.4 L480.2 128.7 L478.2 128.4 L478.5 125.9 L481.0 123.4 L482.2 120.0 L481.0 118.0 L478.5 118.4 L477.2 120.9 L471.8 124.2 L463.5 126.4 L457.6 129.2 L453.4 132.1 L453.8 134.2 L449.3 133.7 L447.1 135.9 L448.4 139.3 L444.3 139.8 L438.7 139.8 L439.3 138.4 L443.8 135.9 L445.1 132.6 L447.1 131.4 L445.9 127.6 L443.8 124.2 L440.1 122.6 L435.9 124.2 L431.7 128.1 L425.0 130.9 L416.7 131.7 L410.0 133.1 L407.5 137.6 L408.4 140.1 L410.9 143.8 L407.5 145.1 L405.0 142.1 L400.2 145.0 L391.9 150.0 L383.5 155.0 L375.2 158.4 L368.5 160.0 L362.6 160.6 L363.5 163.4 L366.8 165.4 L363.5 167.6 L361.8 171.7 L360.5 175.4 L366.8 175.9 L373.5 173.7 L376.8 175.1 L383.5 174.2 L389.4 173.1 L390.5 174.7 L386.9 176.8 L378.5 177.6 L371.8 177.6 L366.8 180.1 L369.3 183.1 L374.3 185.9 L383.5 185.9 L388.5 186.8 L385.2 191.0 L383.5 196.8 L383.0 204.3 L381.0 201.8 L376.8 197.6 L373.5 193.5 L370.2 190.1 L363.5 188.8 L359.3 191.0 L357.6 196.8 L355.1 198.5 L351.8 196.0 L349.3 192.6 L343.4 193.5 L338.4 195.1 L330.9 199.3 L326.7 202.6 L318.4 205.1 L310.0 204.8 L300.0 207.6 L293.6 209.2 L283.6 207.6 L275.2 204.2 L271.1 200.9 L266.9 200.1 L262.7 202.6 L253.5 205.9 L245.2 209.2 L239.3 211.4 L242.7 213.7 L246.0 217.6 L251.8 218.4 L248.5 220.1 L241.8 221.4 L236.8 219.3 L234.3 220.9 L232.6 224.3 L226.8 227.1 L220.1 228.4 L213.4 226.4 L207.6 227.6 L200.9 231.4 L197.6 234.3 L199.2 236.8 L205.9 238.1 L211.8 237.6 L217.6 236.5 L217.6 237.3 L210.1 239.3 L207.6 241.8 L203.4 244.0 L199.2 243.1 L197.6 240.1 L195.1 244.3 L191.7 246.8 L190.9 250.1 L185.9 252.6 L184.2 255.2 L186.7 257.7 L190.1 260.0 L189.3 266.7 L186.7 273.4 L183.4 277.6 L185.9 283.7 L190.1 280.1 L194.3 275.4 L199.3 275.4 L201.8 272.6 L205.1 275.1 L206.8 277.6 L211.8 278.7 L212.6 284.2 L211.0 288.4 L216.8 291.8 L217.6 295.1 L213.5 297.6 L214.3 301.8 L216.8 306.0 L221.8 308.1 L226.0 306.0 L228.5 301.4 L235.2 300.4 L243.5 299.8 L250.2 297.6 L253.6 294.3 L256.1 293.1 L258.6 295.9 L257.7 299.3 L254.4 301.8 L250.2 304.3 L245.2 307.6 L238.5 311.8 L233.5 315.1 L230.2 320.1 L229.3 325.2 L227.7 329.0 L226.0 331.7 L224.3 336.7 L226.8 340.1 L231.0 341.7 L232.6 346.7 L236.0 349.2 L240.2 345.9 L243.5 341.7 L250.2 339.2 L249.3 335.9 L255.2 332.5 L260.2 333.4 L263.5 329.2 L264.4 324.2 L267.7 321.7 L271.1 326.7 L276.9 329.2 L281.9 325.0 L286.1 320.0 L285.3 325.0 L280.2 331.7 L275.2 337.6 L271.1 340.9 L268.5 345.1 L270.2 350.1 L271.6 355.1 L269.4 356.8 L269.4 361.8 L265.2 362.6 L261.9 358.4 L256.9 356.8 L250.2 358.4 L248.5 360.9 L253.5 362.6 L258.5 364.3 L261.0 368.4 L266.0 372.6 L273.6 373.4 L281.9 372.6 L290.3 368.4 L296.9 366.4 L300.3 367.1 L298.6 370.1 L291.9 373.4 L285.3 376.8 L281.9 381.0 L276.9 383.5 L271.9 383.5 L269.3 386.5 L268.9 392.5 L267.0 393.6 L263.6 391.8 L262.0 399.8 L268.7 400.3 L274.9 399.8 L281.1 398.2 L288.3 395.6 L296.6 392.5 L300.7 388.4 L302.8 384.8 L305.9 383.3 L306.9 386.4 L306.4 390.5 L302.8 393.6 L296.6 396.2 L289.4 399.8 L283.2 403.4 L278.0 406.0 L273.4 410.1 L270.8 414.2 L266.2 416.8 L269.8 420.4 L269.3 423.0 L263.6 424.0 L257.4 424.5 L255.8 430.0 L256.9 438.4 L257.7 446.8 L258.2 455.1 L258.5 461.8 L259.4 466.8 L263.5 467.7 L270.2 463.5 L276.9 459.3 L281.9 454.3 L282.7 456.0 L278.6 461.8 L271.9 466.8 L265.2 470.9 L261.9 472.6 L260.2 474.2 L261.0 480.1 L260.2 485.1 L259.4 490.1 L259.9 495.1 L262.7 502.5" fill="none" stroke="#111" stroke-width="1.2" stroke-linejoin="round"/>
<circle cx="222.6" cy="340.9" r="0.7" fill="#222"/>
<circle cx="230.1" cy="350.9" r="0.7" fill="#222"/>
<circle cx="235.1" cy="350.1" r="0.7" fill="#222"/>
<circle cx="221" cy="339" r="0.7" fill="#222"/>
<path d="M624.0 101.0 L598.5 101.0 L590.2 91.8 L578.5 84.3 L566.8 78.4 L546.8 71.8 L528.4 68.4 L516.7 63.4 L500.0 57.6 L495.2 57.6 L471.8 56.7 L455.0 59.5 L445.0 60.0 L430.0 60.5 L412.5 62.5 L400.0 66.3 L385.0 72.5 L370.0 78.8 L355.0 86.3 L345.0 93.8 L338.8 100.0 L325.0 104.5 L310.0 111.3 L297.5 120.0 L290.0 127.5 L284.5 136.3 L275.0 135.5 L260.0 135.5 L250.0 137.0 L243.5 138.5 L237.5 140.5 L225.0 145.0 L212.5 151.3 L200.0 158.8 L187.5 166.3 L175.0 173.8 L160.0 179.5 L150.0 183.8 L137.5 192.5 L125.0 203.8 L115.0 215.0 L106.3 227.5 L101.3 240.0 L99.5 252.5 L101.3 265.0 L104.5 277.5 L105.5 290.0 L110.0 302.5 L116.3 315.0 L127.5 327.5 L138.8 335.0 L138.8 347.5 L142.5 360.0 L146.0 368.0 L150.0 375.0 L155.8 380.8 L158.3 386.7 L166.7 396.7 L170.4 403.3 L170.8 411.7 L173.8 430.0 L177.0 447.5 L178.0 465.0 L180.0 477.5 L190.0 479.5 L203.4 479.2 L220.1 478.4 L236.8 476.4 L250.2 474.2 L260.2 472.6" fill="none" stroke="#222" stroke-opacity="0.8" stroke-width="1.15" stroke-dasharray="5.1 2.2"/>
<path d="M494.9 57.6 L494.4 90.0 L493.5 103.4 L491.9 111.7 L488.5 118.4 L484.3 123.4" fill="none" stroke="#222" stroke-opacity="0.8" stroke-width="1.15" stroke-dasharray="5.1 2.2"/>
<path d="M155.8 378.3 L182.0 374.2 L205.0 371.0" fill="none" stroke="#222" stroke-opacity="0.8" stroke-width="1.15" stroke-dasharray="5.1 2.2"/>
<path d="M178.0 465.0 L195.0 463.2" fill="none" stroke="#222" stroke-opacity="0.8" stroke-width="1.15" stroke-dasharray="5.1 2.2"/>
<path d="M160.0 179.5 L220.5 228.2" fill="none" stroke="#222" stroke-opacity="0.85" stroke-width="0.85"/>
<path d="M138.8 336.3 L216.8 306.6" fill="none" stroke="#222" stroke-opacity="0.85" stroke-width="0.85"/>
<path d="M286.1 320.0 L253.5 341.7 L240.0 361.8 L205.0 370.8" fill="none" stroke="#222" stroke-opacity="0.85" stroke-width="0.85"/>
<path d="M258.3 455.0 L195.0 463.2" fill="none" stroke="#222" stroke-opacity="0.85" stroke-width="0.85"/>
<path d="M602.7 101.4 L599.9 161.0" fill="none" stroke="#222" stroke-opacity="0.85" stroke-width="0.85"/>
<line x1="237.0" y1="24.5" x2="237.0" y2="502.5" stroke="#6a6a6a" stroke-opacity="0.5" stroke-width="1.0" stroke-dasharray="4.3 2.9"/>
<line x1="421.4" y1="24.5" x2="421.4" y2="502.5" stroke="#6a6a6a" stroke-opacity="0.5" stroke-width="1.0" stroke-dasharray="4.3 2.9"/>
<line x1="605.3" y1="24.5" x2="605.3" y2="502.5" stroke="#6a6a6a" stroke-opacity="0.5" stroke-width="1.0" stroke-dasharray="4.3 2.9"/>
<line x1="53.5" y1="79.3" x2="623.5" y2="79.3" stroke="#6a6a6a" stroke-opacity="0.5" stroke-width="1.0" stroke-dasharray="4.3 2.9"/>
<line x1="53.5" y1="263.4" x2="623.5" y2="263.4" stroke="#6a6a6a" stroke-opacity="0.5" stroke-width="1.0" stroke-dasharray="4.3 2.9"/>
<line x1="53.5" y1="447.4" x2="623.5" y2="447.4" stroke="#6a6a6a" stroke-opacity="0.5" stroke-width="1.0" stroke-dasharray="4.3 2.9"/>
</g>
<rect x="53.5" y="24.5" width="570.0" height="478.0" fill="none" stroke="#666" stroke-opacity="0.7" stroke-width="0.9"/>
<text x="236.8" y="17.5" font-size="10.15" text-anchor="middle">9°W</text>
<text x="420.8" y="17.5" font-size="10.15" text-anchor="middle">8°W</text>
<text x="604.8" y="17.5" font-size="10.15" text-anchor="middle">7°W</text>
<text x="49.8" y="83.1" font-size="10.1" text-anchor="end">44°N</text>
<text x="49.8" y="267.1" font-size="10.1" text-anchor="end">43°N</text>
<text x="49.8" y="451.1" font-size="10.1" text-anchor="end">42°N</text>
<rect x="669.4" y="23.70" width="19.7" height="36.42" fill="#aa00b4"/>
<rect x="669.4" y="60.12" width="19.7" height="36.42" fill="#e6007d"/>
<rect x="669.4" y="96.54" width="19.7" height="36.42" fill="#ff0000"/>
<rect x="669.4" y="132.96" width="19.7" height="36.42" fill="#ffaa00"/>
<rect x="669.4" y="169.38" width="19.7" height="36.42" fill="#ffd700"/>
<rect x="669.4" y="205.80" width="19.7" height="36.42" fill="#ffff46"/>
<rect x="669.4" y="242.22" width="19.7" height="36.42" fill="#00ff00"/>
<rect x="669.4" y="278.64" width="19.7" height="36.42" fill="#82f0ff"/>
<rect x="669.4" y="315.06" width="19.7" height="36.42" fill="#d2ffff"/>
<line x1="669.4" y1="60.12" x2="689.1" y2="60.12" stroke="#222" stroke-width="0.7"/>
<line x1="669.4" y1="96.54" x2="689.1" y2="96.54" stroke="#222" stroke-width="0.7"/>
<line x1="669.4" y1="132.96" x2="689.1" y2="132.96" stroke="#222" stroke-width="0.7"/>
<line x1="669.4" y1="169.38" x2="689.1" y2="169.38" stroke="#222" stroke-width="0.7"/>
<line x1="669.4" y1="205.80" x2="689.1" y2="205.80" stroke="#222" stroke-width="0.7"/>
<line x1="669.4" y1="242.22" x2="689.1" y2="242.22" stroke="#222" stroke-width="0.7"/>
<line x1="669.4" y1="278.64" x2="689.1" y2="278.64" stroke="#222" stroke-width="0.7"/>
<line x1="669.4" y1="315.06" x2="689.1" y2="315.06" stroke="#222" stroke-width="0.7"/>
<rect x="669.4" y="23.70" width="19.7" height="327.78" fill="none" stroke="#222" stroke-width="1"/>
<line x1="689.1" y1="23.70" x2="690.6" y2="23.70" stroke="#222" stroke-width="0.8"/>
<text x="691.6" y="28.2" font-size="12.25">20</text>
<line x1="689.1" y1="60.12" x2="690.6" y2="60.12" stroke="#222" stroke-width="0.8"/>
<text x="691.6" y="64.7" font-size="12.25">14</text>
<line x1="689.1" y1="96.54" x2="690.6" y2="96.54" stroke="#222" stroke-width="0.8"/>
<text x="691.6" y="101.1" font-size="12.25">9</text>
<line x1="689.1" y1="132.96" x2="690.6" y2="132.96" stroke="#222" stroke-width="0.8"/>
<text x="691.6" y="137.5" font-size="12.25">6</text>
<line x1="689.1" y1="169.38" x2="690.6" y2="169.38" stroke="#222" stroke-width="0.8"/>
<text x="691.6" y="173.9" font-size="12.25">4</text>
<line x1="689.1" y1="205.80" x2="690.6" y2="205.80" stroke="#222" stroke-width="0.8"/>
<text x="691.6" y="210.4" font-size="12.25">2.5</text>
<line x1="689.1" y1="242.22" x2="690.6" y2="242.22" stroke="#222" stroke-width="0.8"/>
<text x="691.6" y="246.8" font-size="12.25">1.25</text>
<line x1="689.1" y1="278.64" x2="690.6" y2="278.64" stroke="#222" stroke-width="0.8"/>
<text x="691.6" y="283.2" font-size="12.25">0.5</text>
<line x1="689.1" y1="315.06" x2="690.6" y2="315.06" stroke="#222" stroke-width="0.8"/>
<text x="691.6" y="319.6" font-size="12.25">0.1</text>
<line x1="689.1" y1="351.48" x2="690.6" y2="351.48" stroke="#222" stroke-width="0.8"/>
<text x="691.6" y="356.0" font-size="12.25">0</text>
<text transform="translate(663.5,205.5) rotate(-90)" font-size="12.5" text-anchor="middle">Altura (m)</text>
<text x="650.3" y="379.7" font-size="10.4" style="fill:#222">Mar de viento</text>
<text x="650.3" y="426.8" font-size="10.4" style="fill:#222">Mar de fondo</text>
<polygon points="670.9,400.0 691.8,400.0 691.8,395.4 703.5,401.4 691.8,407.4 691.8,402.8 670.9,402.8" fill="#0000ff"/>
<polygon points="670.9,442.1 691.8,442.1 691.8,437.5 703.5,443.5 691.8,449.5 691.8,444.9 670.9,444.9" fill="#505050"/>
<g id="logo" fill="#1747a6">
<path d="M641.7 503.2 L652.8 502.3 L665.4 504.4 L665.4 505.6 L662.4 508 L660 510.4 L659.7 514 L658.8 515.8 L657 519.4 L651.6 520 L648.9 521.8 L646.8 519.4 L646.8 515.8 L646.2 511.6 L645.9 508 L645.3 506.2 L642 506.5 Z"/>
<circle cx="643.5" cy="520.6" r="1.25"/><circle cx="663.6" cy="511.9" r="1.25"/>
<g fill="none" stroke="#fff" stroke-width="0.8"><ellipse cx="650.2" cy="510.7" rx="2.1" ry="1.5" transform="rotate(25 650.2 510.7)"/><ellipse cx="650.4" cy="510.8" rx="4.4" ry="3.2" transform="rotate(25 650.4 510.8)"/><path d="M644.5 505.3 C650 503.6 657 506 660.8 509.5"/><path d="M653.5 502.8 C658 504.2 661.5 505.8 663.3 507.5"/><path d="M646.5 516.6 C651 517.6 656 516.2 659.5 514.2"/><path d="M646.6 519.2 C651 519.8 655 518.8 658 517.2"/></g>
<text x="668" y="519.2" font-size="22.6" font-weight="bold" class="lib" textLength="67.5" lengthAdjust="spacingAndGlyphs" style="fill:#1747a6;stroke:#1747a6;stroke-width:0.5;font-family:'Liberation Sans','DejaVu Sans',sans-serif">aemet</text>
</g>
<text class="lib" x="10.4" y="522.3" font-size="17.5" style="fill:#5a8fdc;stroke:#5a8fdc;stroke-width:0.3">©</text>
<text class="lib" x="27.7" y="519.6" font-size="11.3" style="fill:#5a8fdc;stroke:#5a8fdc;stroke-width:0.15" textLength="163.5" lengthAdjust="spacingAndGlyphs">Agencia Estatal de Meteorología</text>
</svg></body></html>
